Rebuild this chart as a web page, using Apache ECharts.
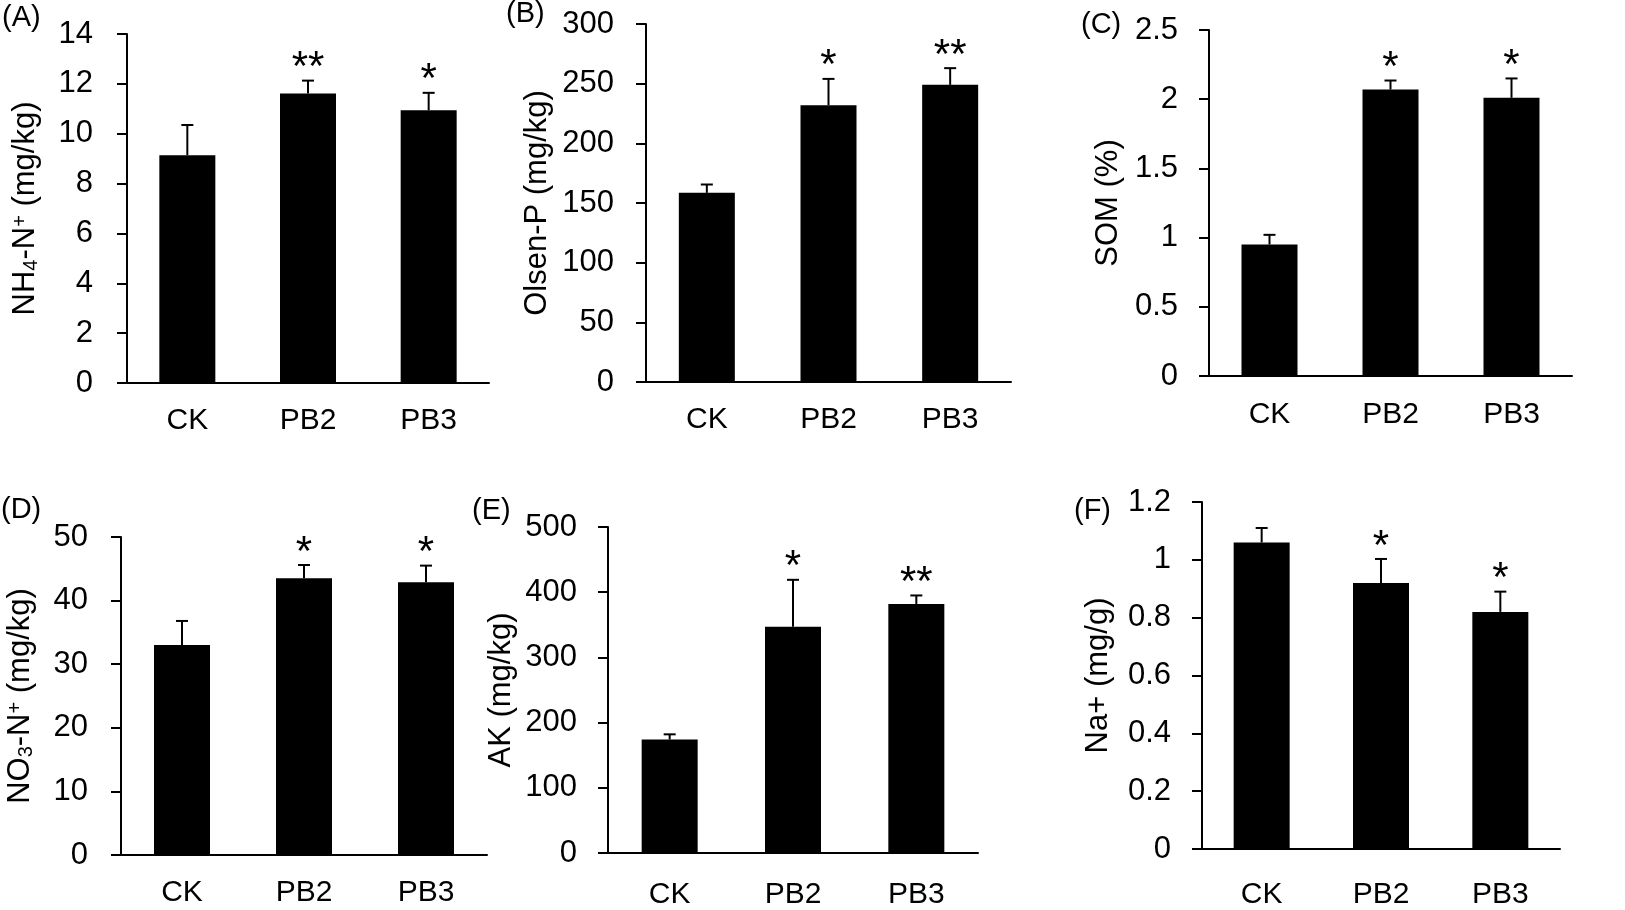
<!DOCTYPE html>
<html>
<head>
<meta charset="utf-8">
<script src="https://cdn.jsdelivr.net/npm/echarts@6/dist/echarts.min.js"></script>
<style>
html,body{margin:0;padding:0;background:#fff;}
#main{width:1625px;height:910px;}
</style>
</head>
<body>
<div id="main"></div>
<script>
// ---- data ----
const categories = ['CK', 'PB2', 'PB3'];

const nh4Values = [9.14, 11.61, 10.94];
const nh4Errors = [1.21, 0.52, 0.70];
const nh4Marks = ['', '**', '*'];

const olsenValues = [158.5, 232, 249];
const olsenErrors = [7, 22, 14];
const olsenMarks = ['', '*', '**'];

const somValues = [0.95, 2.07, 2.01];
const somErrors = [0.07, 0.065, 0.14];
const somMarks = ['', '*', '*'];

const no3Values = [33.0, 43.5, 42.9];
const no3Errors = [3.8, 2.1, 2.6];
const no3Marks = ['', '*', '*'];

const akValues = [174, 347, 382];
const akErrors = [8, 72, 13];
const akMarks = ['', '*', '**'];

const naValues = [1.06, 0.92, 0.82];
const naErrors = [0.05, 0.083, 0.07];
const naMarks = ['', '*', '*'];

const yMaxes = [14, 300, 2.5, 50, 500, 1.2];
const yIntervals = [2, 50, 0.5, 10, 100, 0.2];
const panelLetters = ['(A)', '(B)', '(C)', '(D)', '(E)', '(F)'];
const axisNames = [
  '{n|NH}{sub|4}{n|-N}{sup|+}{n| (mg/kg)}',
  '{n|Olsen-P (mg/kg)}',
  '{n|SOM (%)}',
  '{n|NO}{sub|3}{n|-N}{sup|+}{n| (mg/kg)}',
  '{n|AK (mg/kg)}',
  '{n|Na+ (mg/g)}'
];

// ---- layout / style ----
const FONT = "'Liberation Sans', Arial, sans-serif";
const grids = [
  {left: 127, top: 34, width: 362, height: 349},
  {left: 646, top: 24, width: 365, height: 358},
  {left: 1209, top: 30, width: 363, height: 346},
  {left: 121, top: 537, width: 366, height: 318},
  {left: 608, top: 527, width: 370, height: 330},
  {left: 1202, top: 502, width: 358, height: 350}
];
const nameGaps = [86, 93, 85, 85, 91, 88];
const yLabelMargins = [34, 32, 31, 33, 31, 31];
const xLabelMargins = [23, 23, 24, 23, 27, 31];
const letterPos = [[2, 3], [506, -1], [1081, 10], [1, 495], [472, 496], [1074, 496]];

const panelData = [
  [nh4Values, nh4Errors, nh4Marks],
  [olsenValues, olsenErrors, olsenMarks],
  [somValues, somErrors, somMarks],
  [no3Values, no3Errors, no3Marks],
  [akValues, akErrors, akMarks],
  [naValues, naErrors, naMarks]
];

const xAxes = [], yAxes = [], series = [];
grids.forEach((g, i) => {
  xAxes.push({
    type: 'category', gridIndex: i, data: categories,
    axisLine: {lineStyle: {color: '#000', width: 2}},
    axisTick: {inside: true, length: 10, interval: 0, lineStyle: {color: '#000', width: 2}},
    axisLabel: {color: '#000', fontSize: 30, fontFamily: FONT, margin: xLabelMargins[i]}
  });
  yAxes.push({
    type: 'value', gridIndex: i, min: 0, max: yMaxes[i], interval: yIntervals[i],
    splitLine: {show: false},
    axisLine: {show: true, lineStyle: {color: '#000', width: 2}},
    axisTick: {show: true, length: 10, lineStyle: {color: '#000', width: 2}},
    axisLabel: {color: '#000', fontSize: 31, fontFamily: FONT, margin: yLabelMargins[i]},
    name: axisNames[i], nameLocation: 'middle', nameRotate: 90, nameGap: nameGaps[i],
    nameTextStyle: {
      color: '#000', fontFamily: FONT,
      rich: {
        n: {fontSize: 31, fontFamily: FONT, color: '#000'},
        sub: {fontSize: 20, fontFamily: FONT, color: '#000', verticalAlign: 'bottom'},
        sup: {fontSize: 20, fontFamily: FONT, color: '#000', verticalAlign: 'top'}
      }
    }
  });
  const [vals, errs, marks] = panelData[i];
  series.push({
    type: 'bar', xAxisIndex: i, yAxisIndex: i, data: vals, barWidth: 56,
    itemStyle: {color: '#000'}
  });
  series.push({
    type: 'custom', xAxisIndex: i, yAxisIndex: i, z: 5,
    encode: {x: 0, y: 1},
    data: vals.map((v, j) => [j, v, errs[j]]),
    renderItem: (params, api) => {
      const j = api.value(0), v = api.value(1), e = api.value(2);
      const p0 = api.coord([j, v]);
      const p1 = api.coord([j, v + e]);
      const children = [
        {type: 'line', shape: {x1: p0[0], y1: p0[1], x2: p1[0], y2: p1[1]}, style: {stroke: '#000', lineWidth: 2}},
        {type: 'line', shape: {x1: p1[0] - 6, y1: p1[1], x2: p1[0] + 6, y2: p1[1]}, style: {stroke: '#000', lineWidth: 2}}
      ];
      const m = marks[params.dataIndex];
      if (m) {
        children.push({type: 'text', x: p1[0], y: p1[1] - 12,
          style: {text: m, fontSize: 42, fontFamily: FONT, fill: '#000', align: 'center', verticalAlign: 'middle'}});
      }
      return {type: 'group', children};
    }
  });
});

const graphics = panelLetters.map((t, i) => ({
  type: 'text', left: letterPos[i][0], top: letterPos[i][1],
  style: {text: t, fontSize: 29, fontFamily: FONT, fill: '#000'}
}));

const chart = echarts.init(document.getElementById('main'), null, {renderer: 'canvas'});
chart.setOption({
  animation: false,
  backgroundColor: '#fff',
  grid: grids,
  xAxis: xAxes,
  yAxis: yAxes,
  series: series,
  graphic: graphics
});
</script>
</body>
</html>
